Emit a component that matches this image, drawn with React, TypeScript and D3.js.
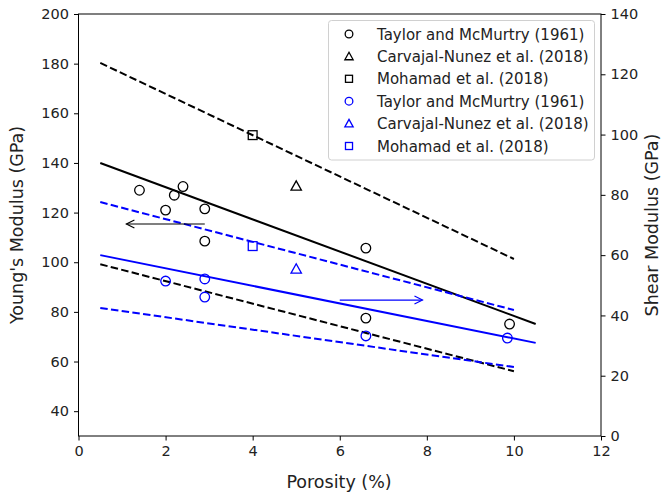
import React, { useEffect, useRef } from 'react';
import * as d3 from 'd3';

// Young's modulus data (left axis, black)
const youngCircles: [number, number][] = [
  [1.4, 129], [2.0, 121], [2.2, 127], [2.4, 130.5], [2.9, 121.5],
  [2.9, 108.5], [6.6, 105.7], [6.6, 77.5], [9.9, 75.1]
];
const youngTriangles: [number, number][] = [[5.0, 130.7]];
const youngSquares: [number, number][] = [[4.0, 151.2]];

// Shear modulus data (right axis, blue)
const shearCircles: [number, number][] = [
  [2.0, 51.4], [2.9, 52.1], [2.9, 46.1], [6.6, 33.2], [9.85, 32.5]
];
const shearTriangles: [number, number][] = [[5.0, 55.4]];
const shearSquares: [number, number][] = [[4.0, 63.0]];

// fit lines [x0, y0, x1, y1]
const youngFit = [0.5, 140, 10.5, 75.1];
const youngUpper = [0.5, 180.3, 10, 101.3];
const youngLower = [0.5, 99.2, 10, 56.1];
const shearFit = [0.5, 60.0, 10.5, 30.9];
const shearUpper = [0.5, 77.6, 10, 41.8];
const shearLower = [0.5, 42.5, 10, 22.9];

// arrows [xFrom, xTo, y]
const youngArrow = [2.9, 1.1, 115.4];
const shearArrow = [6.0, 7.9, 45.1];

const xTicks = [0, 2, 4, 6, 8, 10, 12];
const leftTicks = [40, 60, 80, 100, 120, 140, 160, 180, 200];
const rightTicks = [0, 20, 40, 60, 80, 100, 120, 140];

const legendItems = [
  { label: 'Taylor and McMurtry (1961)', shape: 'circle', color: 'black' },
  { label: 'Carvajal-Nunez et al. (2018)', shape: 'triangle', color: 'black' },
  { label: 'Mohamad et al. (2018)', shape: 'square', color: 'black' },
  { label: 'Taylor and McMurtry (1961)', shape: 'circle', color: 'blue' },
  { label: 'Carvajal-Nunez et al. (2018)', shape: 'triangle', color: 'blue' },
  { label: 'Mohamad et al. (2018)', shape: 'square', color: 'blue' }
];

const font = 'DejaVu Sans, sans-serif';

function drawMarker(g: any, shape: string, cx: number, cy: number, color: string, k = 1) {
  if (shape === 'circle') {
    g.append('circle').attr('cx', cx).attr('cy', cy).attr('r', 4.8 * k)
      .attr('fill', 'none').attr('stroke', color).attr('stroke-width', 1.3);
  } else if (shape === 'triangle') {
    const s = 5.2 * k;
    g.append('path')
      .attr('d', `M${cx},${cy - s} L${cx + s},${cy + s * 0.8} L${cx - s},${cy + s * 0.8} Z`)
      .attr('fill', 'none').attr('stroke', color).attr('stroke-width', 1.3);
  } else {
    const s = 4.4 * k;
    g.append('rect').attr('x', cx - s).attr('y', cy - s).attr('width', 2 * s).attr('height', 2 * s)
      .attr('fill', 'none').attr('stroke', color).attr('stroke-width', 1.3);
  }
}

function draw(ref: any) {
  const width = 662, height = 493;
  const left = 78.5, right = 601, top = 14, bottom = 436;

  const svg = d3.select(ref.current)
    .append('svg')
    .attr('width', width)
    .attr('height', height)
    .style('position', 'absolute')
    .style('left', 0)
    .style('top', 0)
    .style('background', 'white');

  const x = d3.scaleLinear().domain([0, 12]).range([left, right]);
  const yL = d3.scaleLinear().domain([30, 200]).range([bottom, top]);
  const yR = d3.scaleLinear().domain([0, 140]).range([bottom, top]);

  const lineL = (seg: number[], color: string, dashed: boolean) => {
    svg.append('line')
      .attr('x1', x(seg[0])).attr('y1', yL(seg[1]))
      .attr('x2', x(seg[2])).attr('y2', yL(seg[3]))
      .attr('stroke', color).attr('stroke-width', 2)
      .attr('stroke-dasharray', dashed ? '7.5,3.3' : null);
  };
  const lineR = (seg: number[], color: string, dashed: boolean) => {
    svg.append('line')
      .attr('x1', x(seg[0])).attr('y1', yR(seg[1]))
      .attr('x2', x(seg[2])).attr('y2', yR(seg[3]))
      .attr('stroke', color).attr('stroke-width', 2)
      .attr('stroke-dasharray', dashed ? '7.5,3.3' : null);
  };

  lineL(youngFit, 'black', false);
  lineL(youngUpper, 'black', true);
  lineL(youngLower, 'black', true);
  lineR(shearFit, 'blue', false);
  lineR(shearUpper, 'blue', true);
  lineR(shearLower, 'blue', true);

  const pts = svg.append('g');
  youngCircles.forEach(d => drawMarker(pts, 'circle', x(d[0]), yL(d[1]), 'black'));
  youngTriangles.forEach(d => drawMarker(pts, 'triangle', x(d[0]), yL(d[1]), 'black'));
  youngSquares.forEach(d => drawMarker(pts, 'square', x(d[0]), yL(d[1]), 'black'));
  shearCircles.forEach(d => drawMarker(pts, 'circle', x(d[0]), yR(d[1]), 'blue'));
  shearTriangles.forEach(d => drawMarker(pts, 'triangle', x(d[0]), yR(d[1]), 'blue'));
  shearSquares.forEach(d => drawMarker(pts, 'square', x(d[0]), yR(d[1]), 'blue'));

  // arrows
  const arrow = (x0: number, x1: number, y: number, color: string) => {
    const dir = x1 > x0 ? 1 : -1;
    svg.append('line').attr('x1', x0).attr('y1', y).attr('x2', x1).attr('y2', y)
      .attr('stroke', color).attr('stroke-width', 1.2);
    svg.append('path')
      .attr('d', `M${x1 - dir * 8},${y - 4} L${x1},${y} L${x1 - dir * 8},${y + 4}`)
      .attr('fill', 'none').attr('stroke', color).attr('stroke-width', 1.2);
  };
  arrow(x(youngArrow[0]), x(youngArrow[1]), yL(youngArrow[2]), 'black');
  arrow(x(shearArrow[0]), x(shearArrow[1]), yR(shearArrow[2]), 'blue');

  // frame
  svg.append('rect')
    .attr('x', left).attr('y', top).attr('width', right - left).attr('height', bottom - top)
    .attr('fill', 'none').attr('stroke', 'black').attr('stroke-width', 1);

  const styleAxis = (g: any) => {
    g.select('.domain').remove();
    g.selectAll('.tick line').attr('stroke', 'black').attr('stroke-width', 1);
    g.selectAll('.tick text').attr('font-family', font).attr('font-size', 14.5).attr('fill', '#222');
  };

  svg.append('g').attr('transform', `translate(0,${bottom})`)
    .call(d3.axisBottom(x).tickValues(xTicks).tickSize(4.5).tickPadding(5).tickFormat(d3.format('d')))
    .call(styleAxis);
  svg.append('g').attr('transform', `translate(${left},0)`)
    .call(d3.axisLeft(yL).tickValues(leftTicks).tickSize(4.5).tickPadding(5).tickFormat(d3.format('d')))
    .call(styleAxis);
  svg.append('g').attr('transform', `translate(${right},0)`)
    .call(d3.axisRight(yR).tickValues(rightTicks).tickSize(4.5).tickPadding(5).tickFormat(d3.format('d')))
    .call(styleAxis);

  // axis labels
  const labelSize = 17.5;
  svg.append('text').attr('x', 339).attr('y', 488)
    .attr('text-anchor', 'middle').attr('font-family', font).attr('font-size', labelSize)
    .attr('fill', '#222').text('Porosity (%)');
  svg.append('text')
    .attr('transform', `translate(23,${(top + bottom) / 2}) rotate(-90)`)
    .attr('text-anchor', 'middle').attr('font-family', font).attr('font-size', labelSize)
    .attr('fill', '#222').text("Young's Modulus (GPa)");
  svg.append('text')
    .attr('transform', `translate(658,${(top + bottom) / 2}) rotate(-90)`)
    .attr('text-anchor', 'middle').attr('font-family', font).attr('font-size', labelSize)
    .attr('fill', '#222').text('Shear Modulus (GPa)');

  // legend
  const lg = svg.append('g');
  lg.append('rect')
    .attr('x', 328.5).attr('y', 20.5).attr('width', 266).attr('height', 139.5)
    .attr('rx', 3).attr('fill', 'white').attr('fill-opacity', 0.8)
    .attr('stroke', '#d0d0d0').attr('stroke-width', 1);
  legendItems.forEach((item, i) => {
    const cy = 34 + i * 22.4;
    drawMarker(lg, item.shape, 349, cy, item.color, 0.8);
    lg.append('text').attr('x', 377).attr('y', cy + 5.5)
      .attr('font-family', font).attr('font-size', 15).attr('fill', '#222')
      .text(item.label);
  });
}

function App() {
  const ref = useRef(null);
  useEffect(() => {
    draw(ref);
    return () => { d3.select(ref.current).selectAll('*').remove(); };
  }, []);
  return (<div ref={ref}></div>);
}

export default App;
